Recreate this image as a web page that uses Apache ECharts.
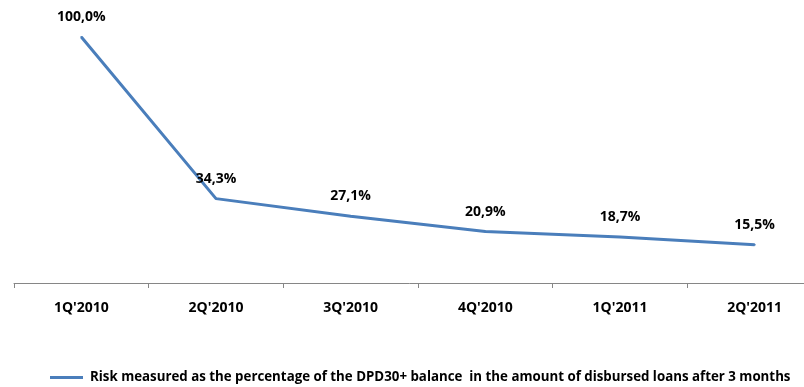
<!DOCTYPE html>
<html>
<head>
<meta charset="utf-8">
<script src="https://cdn.jsdelivr.net/npm/echarts@6/dist/echarts.min.js"></script>
<style>
  html, body { margin: 0; padding: 0; background: #ffffff; }
  #chart { width: 804px; height: 387px; }
</style>
</head>
<body>
<div id="chart"></div>
<script>
// Quarterly risk indicator
const categories = ["1Q'2010", "2Q'2010", "3Q'2010", "4Q'2010", "1Q'2011", "2Q'2011"];
const riskValues = [100.0, 34.3, 27.1, 20.9, 18.7, 15.5];
const seriesName = "Risk measured as the percentage of the DPD30+ balance  in the amount of disbursed loans after 3 months";

const FONT = "'Open Sans', sans-serif";
const LINE_COLOR = '#4a7ebb';

const chart = echarts.init(document.getElementById('chart'), null, { renderer: 'canvas' });
chart.setOption({
  animation: false,
  backgroundColor: '#ffffff',
  // plot area runs past the right edge of the canvas
  grid: { left: 14, width: 808, top: 37, height: 246, outerBoundsMode: 'none', containLabel: false },
  legend: {
    data: [{ name: seriesName, icon: 'rect' }],
    left: 45,
    top: 366,
    itemWidth: 33,
    itemHeight: 3,
    itemGap: 0,
    textStyle: { fontFamily: FONT, fontWeight: 'bold', fontSize: 13.3, color: '#000', padding: [0, 0, 0, 2] }
  },
  xAxis: {
    type: 'category',
    data: categories,
    boundaryGap: true,
    axisLine: { lineStyle: { color: '#868686', width: 1 } },
    axisTick: { show: true, length: 5, lineStyle: { color: '#868686' } },
    axisLabel: { fontFamily: FONT, fontWeight: 'bold', fontSize: 14, color: '#000', margin: 18 }
  },
  yAxis: {
    type: 'value',
    min: 0,
    max: 100,
    show: false,
    splitLine: { show: false }
  },
  series: [{
    name: seriesName,
    type: 'line',
    data: riskValues,
    symbol: 'circle',
    symbolSize: 2,
    showSymbol: true,
    lineStyle: { color: LINE_COLOR, width: 3 },
    itemStyle: { color: LINE_COLOR },
    label: {
      show: true,
      position: 'top',
      distance: 12,
      fontFamily: FONT,
      fontWeight: 'bold',
      fontSize: 14,
      color: '#000',
      formatter: p => Number(p.value).toFixed(1).replace('.', ',') + '%'
    }
  }]
});
</script>
</body>
</html>
